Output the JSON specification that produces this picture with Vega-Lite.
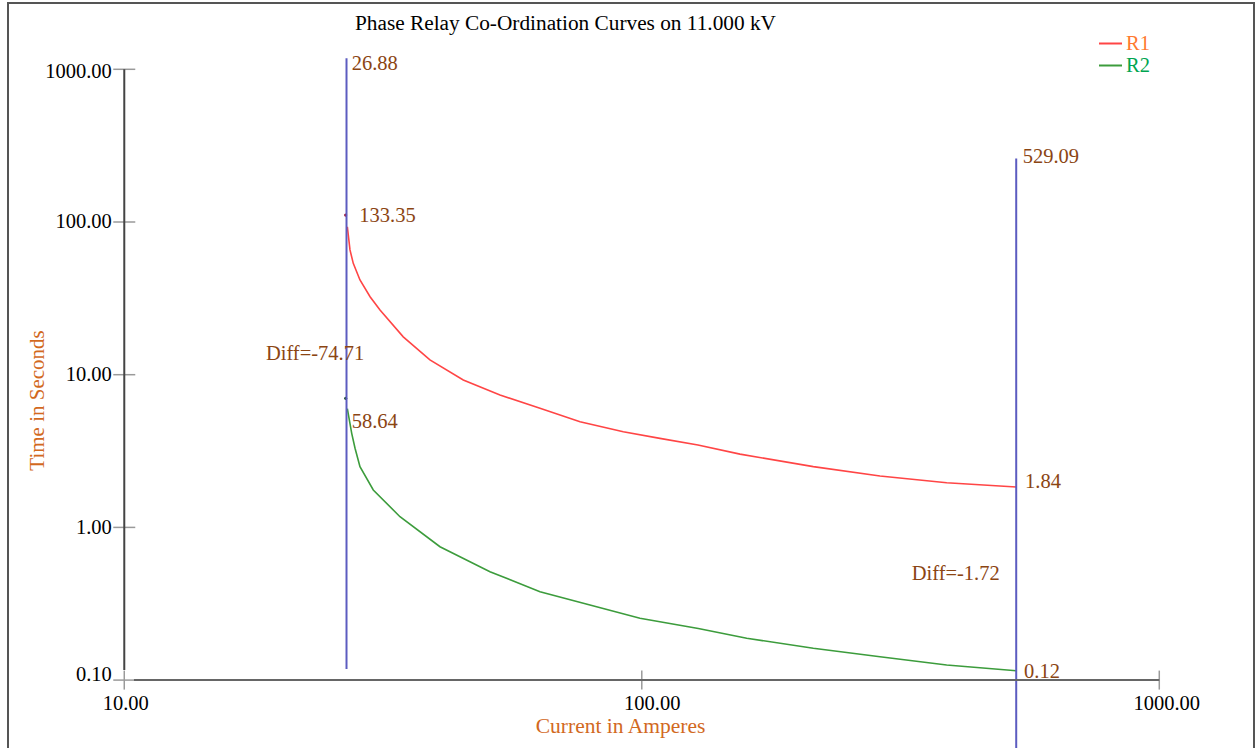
{
  "$schema": "https://vega.github.io/schema/vega-lite/v6.json",
  "width": 1246,
  "height": 747,
  "autosize": {"type": "none"},
  "padding": {"left": 8, "top": 3, "right": 3, "bottom": 0},
  "background": "white",
  "config": {
    "view": {"stroke": "#555555", "strokeWidth": 2},
    "font": "Liberation Serif"
  },
  "datasets": {
    "curves": [
      {"relay": "R1", "I": 26.98, "t": 93.1},
      {"relay": "R1", "I": 27.30, "t": 65.6},
      {"relay": "R1", "I": 27.70, "t": 53.6},
      {"relay": "R1", "I": 28.54, "t": 41.7},
      {"relay": "R1", "I": 29.85, "t": 32.4},
      {"relay": "R1", "I": 31.20, "t": 26.5},
      {"relay": "R1", "I": 34.60, "t": 17.7},
      {"relay": "R1", "I": 38.96, "t": 12.5},
      {"relay": "R1", "I": 45.19, "t": 9.23},
      {"relay": "R1", "I": 53.21, "t": 7.36},
      {"relay": "R1", "I": 63.58, "t": 6.03},
      {"relay": "R1", "I": 75.97, "t": 4.92},
      {"relay": "R1", "I": 92.1, "t": 4.23},
      {"relay": "R1", "I": 108.4, "t": 3.83},
      {"relay": "R1", "I": 128.4, "t": 3.46},
      {"relay": "R1", "I": 154.8, "t": 3.02},
      {"relay": "R1", "I": 214.5, "t": 2.50},
      {"relay": "R1", "I": 288.6, "t": 2.17},
      {"relay": "R1", "I": 388.3, "t": 1.96},
      {"relay": "R1", "I": 529.09, "t": 1.84},
      {"relay": "R2", "I": 26.98, "t": 6.0},
      {"relay": "R2", "I": 27.51, "t": 4.13},
      {"relay": "R2", "I": 27.92, "t": 3.30},
      {"relay": "R2", "I": 28.54, "t": 2.50},
      {"relay": "R2", "I": 30.28, "t": 1.757},
      {"relay": "R2", "I": 34.10, "t": 1.175},
      {"relay": "R2", "I": 40.74, "t": 0.747},
      {"relay": "R2", "I": 50.89, "t": 0.513},
      {"relay": "R2", "I": 63.58, "t": 0.379},
      {"relay": "R2", "I": 79.41, "t": 0.310},
      {"relay": "R2", "I": 99.2, "t": 0.254},
      {"relay": "R2", "I": 128.6, "t": 0.218},
      {"relay": "R2", "I": 159.5, "t": 0.188},
      {"relay": "R2", "I": 214.5, "t": 0.1615},
      {"relay": "R2", "I": 288.6, "t": 0.1423},
      {"relay": "R2", "I": 388.3, "t": 0.1256},
      {"relay": "R2", "I": 529.09, "t": 0.115}
    ],
    "markers": [
      {"relay": "R1", "I": 26.78, "t": 111},
      {"relay": "R2", "I": 26.78, "t": 7.0}
    ],
    "cuts": [
      {"I": 26.88, "top": 1180, "bottom": 0.118},
      {"I": 529.09, "top": 261, "bottom": 0.035}
    ],
    "labels": [
      {"text": "26.88", "I": 27.51, "t": 1080},
      {"text": "133.35", "I": 28.46, "t": 109.8},
      {"text": "Diff=-74.71", "I": 18.78, "t": 13.62},
      {"text": "58.64", "I": 27.51, "t": 4.92},
      {"text": "529.09", "I": 544.5, "t": 266.6},
      {"text": "1.84", "I": 550.2, "t": 1.992},
      {"text": "Diff=-1.72", "I": 332.3, "t": 0.494},
      {"text": "0.12", "I": 548, "t": 0.1126}
    ],
    "heading": [
      {"text": "Phase Relay Co-Ordination Curves on 11.000 kV", "I": 71.21, "t": 1822}
    ],
    "yticks": [{"v": 0.1}, {"v": 1}, {"v": 10}, {"v": 100}, {"v": 1000}],
    "xticks": [{"v": 10}, {"v": 100}, {"v": 1000}],
    "one": [{}]
  },
  "layer": [
    {
      "data": {"name": "curves"},
      "mark": {"type": "line", "strokeWidth": 1.6},
      "encoding": {
        "x": {
          "field": "I", "type": "quantitative",
          "scale": {"type": "log", "domain": [5.961, 1524.1], "nice": false, "zero": false},
          "axis": {
            "values": [10, 100, 1000], "format": ".2f", "offset": -70,
            "ticks": false, "domain": false, "grid": false,
            "labelFont": "Liberation Serif", "labelFontSize": 20.5, "labelColor": "#000000", "labelPadding": 13,
            "labelOffset": {"condition": [{"test": "datum.value > 500", "value": 7}, {"test": "datum.value > 50", "value": 10}], "value": 1},
            "title": "Current in Amperes", "titleFont": "Liberation Serif", "titleFontSize": 21.5,
            "titleFontWeight": "normal", "titleColor": "#d2691e",
            "titleX": 612, "titleY": 52, "titleBaseline": "alphabetic", "titleAlign": "center"
          }
        },
        "y": {
          "field": "t", "type": "quantitative",
          "scale": {"type": "log", "domain": [0.03485, 2717.5], "nice": false, "zero": false},
          "axis": {
            "values": [0.1, 1, 10, 100, 1000], "format": ".2f", "offset": -116.3,
            "ticks": false, "domain": false, "grid": false,
            "labelFont": "Liberation Serif", "labelFontSize": 20.5, "labelColor": "#000000", "labelPadding": 13,
            "labelOffset": {"condition": [{"test": "datum.value < 0.5", "value": -6}, {"test": "datum.value > 500", "value": 2}], "value": 0},
            "title": "Time in Seconds", "titleFont": "Liberation Serif", "titleFontSize": 21,
            "titleFontWeight": "normal", "titleColor": "#d2691e",
            "titleX": -87, "titleY": 397, "titleBaseline": "middle", "titleAlign": "center", "titleAngle": -90
          }
        },
        "color": {
          "field": "relay", "type": "nominal",
          "scale": {"domain": ["R1", "R2"], "range": ["#ff4545", "#3c9c3c"]},
          "legend": {
            "orient": "none", "legendX": 1091.5, "legendY": 29.5, "title": null,
            "symbolType": "M-1.15,0H1.15", "symbolSize": 400, "symbolStrokeWidth": 2,
            "labelFont": "Liberation Serif", "labelFontSize": 20.5, "labelOffset": 4.5,
            "rowPadding": -1.5, "padding": 0,
            "encode": {"labels": {"update": {"fill": {"signal": "datum.value === 'R1' ? '#ff7a30' : '#00a550'"}}}}
          }
        }
      }
    },
    {
      "data": {"name": "markers"},
      "mark": {"type": "point", "filled": true, "size": 10, "opacity": 1},
      "encoding": {
        "x": {"field": "I", "type": "quantitative", "scale": {"type": "log", "domain": [5.961, 1524.1], "nice": false, "zero": false}},
        "y": {"field": "t", "type": "quantitative", "scale": {"type": "log", "domain": [0.03485, 2717.5], "nice": false, "zero": false}},
        "color": {"condition": {"test": "datum.relay === 'R1'", "value": "#a01030"}, "value": "#1a4a2a"}
      }
    },
    {
      "data": {"name": "cuts"},
      "mark": {"type": "rule", "color": "#5c5cc0", "strokeWidth": 2},
      "encoding": {
        "x": {"field": "I", "type": "quantitative", "scale": {"type": "log", "domain": [5.961, 1524.1], "nice": false, "zero": false}},
        "y": {"field": "top", "type": "quantitative", "scale": {"type": "log", "domain": [0.03485, 2717.5], "nice": false, "zero": false}},
        "y2": {"field": "bottom"}
      }
    },
    {
      "data": {"name": "yticks"},
      "mark": {"type": "tick", "orient": "horizontal", "size": 22, "thickness": 1.5, "color": "#9a9a9a", "opacity": 1},
      "encoding": {
        "x": {"datum": 10, "type": "quantitative", "scale": {"type": "log", "domain": [5.961, 1524.1], "nice": false, "zero": false}},
        "y": {"field": "v", "type": "quantitative", "scale": {"type": "log", "domain": [0.03485, 2717.5], "nice": false, "zero": false}}
      }
    },
    {
      "data": {"name": "xticks"},
      "mark": {"type": "tick", "orient": "vertical", "size": 19, "thickness": 1.5, "color": "#9a9a9a", "opacity": 1},
      "encoding": {
        "x": {"field": "v", "type": "quantitative", "scale": {"type": "log", "domain": [5.961, 1524.1], "nice": false, "zero": false}},
        "y": {"datum": 0.1, "type": "quantitative", "scale": {"type": "log", "domain": [0.03485, 2717.5], "nice": false, "zero": false}}
      }
    },
    {
      "data": {"name": "one"},
      "mark": {"type": "rule", "color": "#444444", "strokeWidth": 2},
      "encoding": {
        "x": {"datum": 10, "type": "quantitative", "scale": {"type": "log", "domain": [5.961, 1524.1], "nice": false, "zero": false}},
        "y": {"datum": 0.1164, "type": "quantitative", "scale": {"type": "log", "domain": [0.03485, 2717.5], "nice": false, "zero": false}},
        "y2": {"datum": 1000}
      }
    },
    {
      "data": {"name": "one"},
      "mark": {"type": "rule", "color": "#666666", "strokeWidth": 2},
      "encoding": {
        "x": {"datum": 10.44, "type": "quantitative", "scale": {"type": "log", "domain": [5.961, 1524.1], "nice": false, "zero": false}},
        "x2": {"datum": 1000},
        "y": {"datum": 0.1, "type": "quantitative", "scale": {"type": "log", "domain": [0.03485, 2717.5], "nice": false, "zero": false}}
      }
    },
    {
      "data": {"name": "labels"},
      "mark": {"type": "text", "align": "left", "baseline": "middle", "font": "Liberation Serif", "fontSize": 20.5, "color": "#8b4513"},
      "encoding": {
        "x": {"field": "I", "type": "quantitative", "scale": {"type": "log", "domain": [5.961, 1524.1], "nice": false, "zero": false}},
        "y": {"field": "t", "type": "quantitative", "scale": {"type": "log", "domain": [0.03485, 2717.5], "nice": false, "zero": false}},
        "text": {"field": "text", "type": "nominal"}
      }
    },
    {
      "data": {"name": "heading"},
      "mark": {"type": "text", "align": "center", "baseline": "alphabetic", "font": "Liberation Serif", "fontSize": 21.3, "color": "#000000"},
      "encoding": {
        "x": {"field": "I", "type": "quantitative", "scale": {"type": "log", "domain": [5.961, 1524.1], "nice": false, "zero": false}},
        "y": {"field": "t", "type": "quantitative", "scale": {"type": "log", "domain": [0.03485, 2717.5], "nice": false, "zero": false}},
        "text": {"field": "text", "type": "nominal"}
      }
    }
  ]
}
